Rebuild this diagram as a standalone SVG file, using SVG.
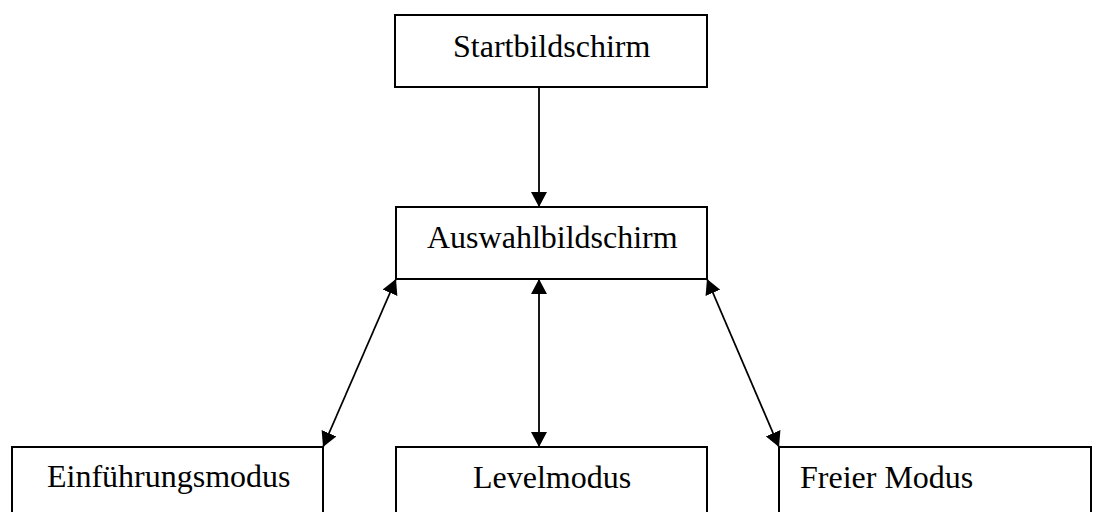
<svg xmlns="http://www.w3.org/2000/svg" width="1093" height="512" viewBox="0 0 1093 512">
<defs>
<style>
.box{fill:#fff;stroke:#000;stroke-width:2}
.lbl{font-family:"Liberation Serif","Times New Roman",serif;font-size:32px;fill:#000}
.con{stroke:#000;stroke-width:1.8;fill:none}
</style>
<marker id="ah" viewBox="0 0 15 16" refX="15" refY="8" markerWidth="15" markerHeight="16" markerUnits="userSpaceOnUse" orient="auto-start-reverse">
<path d="M0,0 L15,8 L0,16 Z" fill="#000"/>
</marker>
</defs>
<rect width="1093" height="512" fill="#fff"/>
<g id="connectors">
<line class="con" x1="539" y1="87" x2="539" y2="207" marker-end="url(#ah)"/>
<line class="con" x1="539" y1="279" x2="539" y2="447" marker-start="url(#ah)" marker-end="url(#ah)"/>
<line class="con" x1="396" y1="279" x2="323" y2="447" marker-start="url(#ah)" marker-end="url(#ah)"/>
<line class="con" x1="707" y1="279" x2="779" y2="447" marker-start="url(#ah)" marker-end="url(#ah)"/>
</g>
<g id="start">
<rect class="box" x="395" y="15" width="312" height="72"/>
<text class="lbl" x="453" y="57">Startbildschirm</text>
</g>
<g id="auswahl">
<rect class="box" x="396" y="207" width="311" height="72"/>
<text class="lbl" x="427" y="248">Auswahlbildschirm</text>
</g>
<g id="einfuehrung">
<rect class="box" x="12" y="447" width="311" height="80"/>
<text class="lbl" x="47" y="487">Einführungsmodus</text>
</g>
<g id="level">
<rect class="box" x="396" y="447" width="311" height="80"/>
<text class="lbl" x="473" y="488">Levelmodus</text>
</g>
<g id="frei">
<rect class="box" x="779" y="447" width="312" height="80"/>
<text class="lbl" x="800" y="488">Freier Modus</text>
</g>
</svg>
